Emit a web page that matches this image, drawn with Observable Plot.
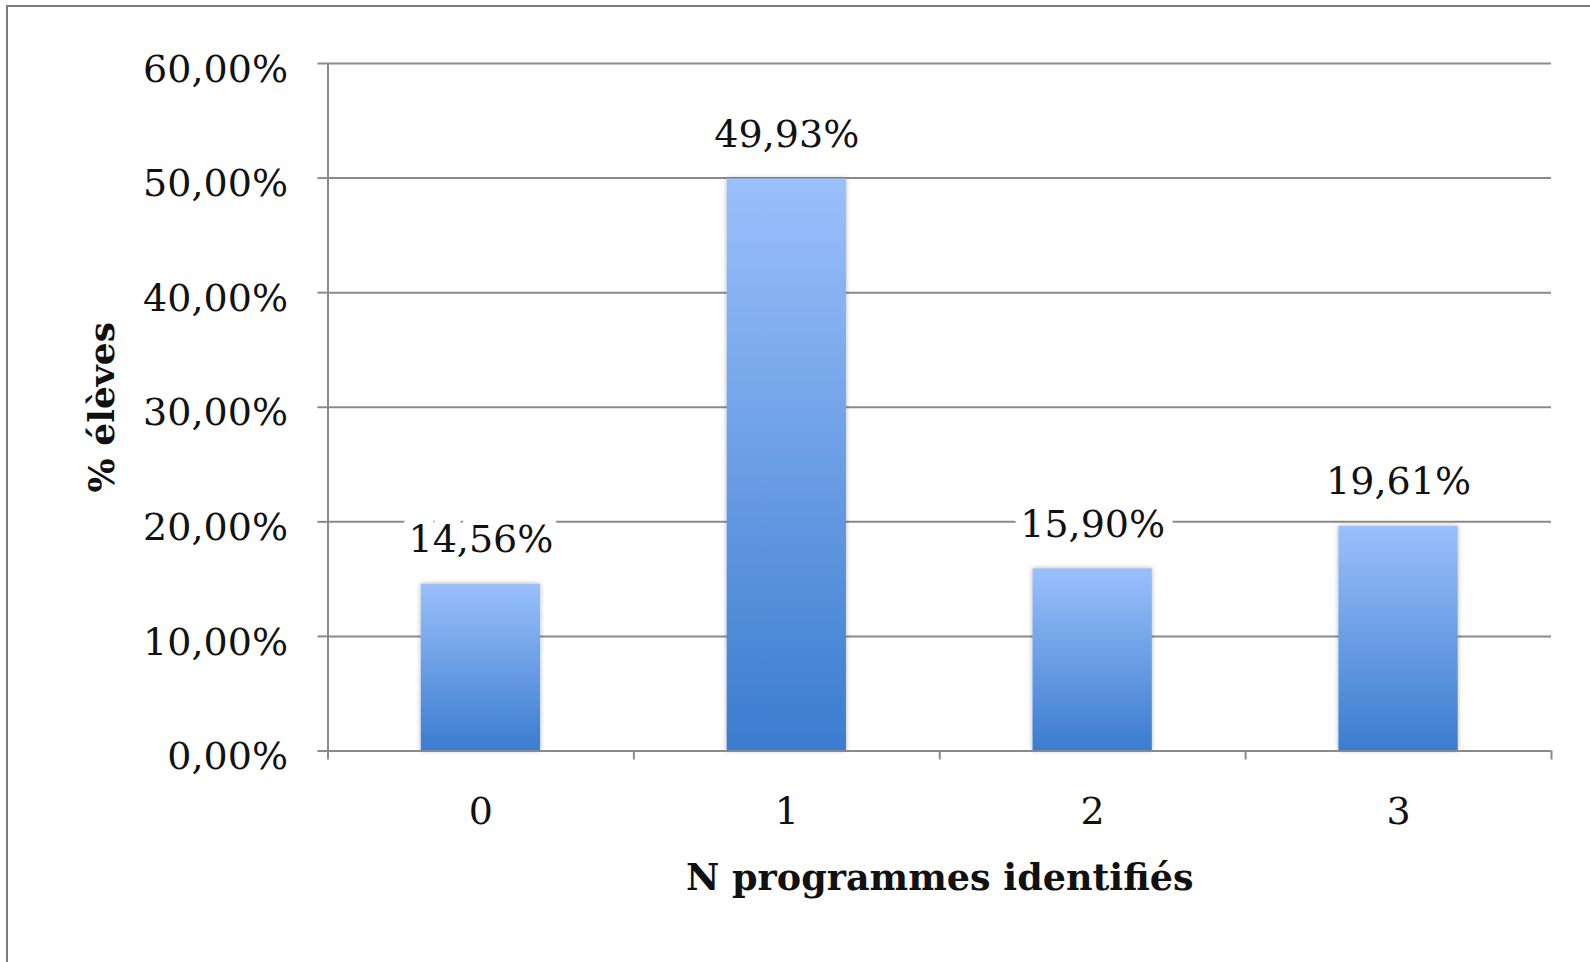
<!DOCTYPE html>
<html><head><meta charset="utf-8">
<script src="https://cdn.jsdelivr.net/npm/d3@7"></script>
<script src="https://cdn.jsdelivr.net/npm/@observablehq/plot@0.6"></script>
<style>
body{margin:0;background:#fff;}
#wrap{position:relative;width:1590px;height:962px;overflow:hidden;}
#frame{position:absolute;left:6px;top:5px;width:1600px;height:1000px;border-left:2px solid #7a7a7a;border-top:2px solid #7a7a7a;pointer-events:none;}
</style></head><body><div id="wrap"><div id="frame"></div></div>
<script>
const categories = [0, 1, 2, 3];
const values = [14.56, 49.93, 15.90, 19.61];
const yTicks = [0, 10, 20, 30, 40, 50, 60];
const xBoundaries = [-0.5, 0.5, 1.5, 2.5, 3.5];
const xTitle = "N programmes identifiés";
const yTitle = "% élèves";

const data = categories.map((c, i) => ({n: c, pct: values[i]}));
const fmt = v => d3.format(".2f")(v).replace(".", ",") + "%";
const half = 0.195;
const grey = "#8a8a8a";

const plot = Plot.plot({
  width: 1590, height: 962,
  marginLeft: 327.5, marginRight: 39, marginTop: 63, marginBottom: 211.5,
  style: {fontFamily: "DejaVu Serif", fontSize: "38px", color: "#111", background: "white", overflow: "visible"},
  x: {domain: [-0.5, 3.5]},
  y: {domain: [0, 60]},
  marks: [
    Plot.gridY(yTicks, {stroke: grey, strokeOpacity: 1, strokeWidth: 2}),
    Plot.axisY({ticks: yTicks, tickSize: 10, tickFormat: () => "", stroke: grey, strokeWidth: 2, label: null}),
    Plot.axisY({ticks: yTicks, tickSize: 0, tickPadding: 40, tickFormat: fmt, dy: 6, label: null, fill: "#111"}),
    Plot.axisX({ticks: xBoundaries, tickSize: 9, tickFormat: () => "", stroke: grey, strokeWidth: 2, label: null}),
    Plot.axisX({ticks: categories, tickSize: 0, tickPadding: 46, tickFormat: d => String(d), label: null, fill: "#111"}),
    Plot.ruleX([-0.5], {y1: 0, y2: 60, stroke: grey, strokeWidth: 2}),
    Plot.rectY(data, {x1: d => d.n - half, x2: d => d.n + half, y: "pct", fill: "url(#barGrad)"}),
    Plot.ruleY([0], {stroke: grey, strokeWidth: 2}),
    Plot.text(data, {x: "n", y: "pct", text: d => fmt(d.pct), lineAnchor: "bottom", dy: -32,
      fill: "#111", stroke: "white", strokeWidth: 22, strokeLinejoin: "round", paintOrder: "stroke"}),
    Plot.text([xTitle], {frameAnchor: "bottom", dy: 138.5, text: d => d, fontWeight: "bold", fontSize: 36.5, fill: "#111"}),
    Plot.text([yTitle], {frameAnchor: "left", textAnchor: "middle", dx: -226, rotate: -90, text: d => d, fontWeight: "bold", fontSize: 36, fill: "#111"})
  ]
});

const svg = d3.select(plot);
const defs = svg.insert("defs", ":first-child");
const g = defs.append("linearGradient").attr("id", "barGrad").attr("x1", 0).attr("y1", 0).attr("x2", 0).attr("y2", 1);
g.append("stop").attr("offset", "0%").attr("stop-color", "#9ac0fb");
g.append("stop").attr("offset", "100%").attr("stop-color", "#3b7ccf");
const f = defs.append("filter").attr("id", "barShadow").attr("x", "-20%").attr("y", "-5%").attr("width", "140%").attr("height", "110%");
f.append("feDropShadow").attr("dx", 0).attr("dy", 0).attr("stdDeviation", 2.5).attr("flood-color", "#000").attr("flood-opacity", 0.3);
svg.selectAll('g[aria-label="rect"] rect').attr("filter", "url(#barShadow)");

document.getElementById("wrap").insertBefore(plot, document.getElementById("frame"));
plot.style.position = "absolute";
plot.style.left = "0px";
plot.style.top = "0px";
</script>
</body></html>
